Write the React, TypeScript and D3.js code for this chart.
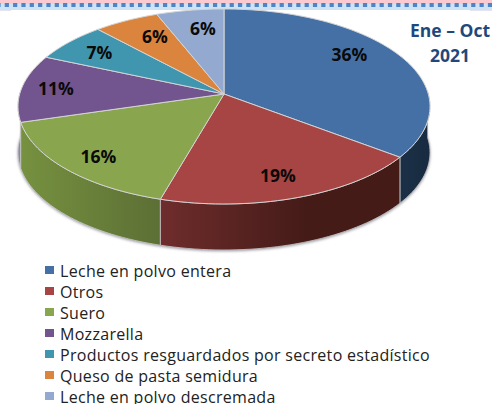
import React from "react";
import * as d3 from "d3";

const categories = [
  "Leche en polvo entera",
  "Otros",
  "Suero",
  "Mozzarella",
  "Productos resguardados por secreto estadístico",
  "Queso de pasta semidura",
  "Leche en polvo descremada",
];
const values = [35.4, 19.0, 16.0, 11.2, 6.6, 5.8, 6.0];
const labels = ["36%", "19%", "16%", "11%", "7%", "6%", "6%"];
const colors = ["#4570a5", "#a64544", "#89a54e", "#72548f", "#4096ae", "#db843d", "#93a9cf"];
const sideLeft = ["#1b3047", "#6e2d2c", "#76913f", "#8f86a8", "#2f7286", "#a8642d", "#7b8fb0"];
const sideRight = ["#182b40", "#451b18", "#5c6f35", "#8f86a8", "#2f7286", "#a8642d", "#7b8fb0"];
const labelRadius = [0.77, 0.82, 0.835, 0.828, 0.78, 0.73, 0.73];
const labelTurnDeg = [-6.6, 1.5, -1.9, -0.6, -1.4, 2, 1.9];

const W = 492;
const H = 404;
const CX = 224;
const CY = 94;
const A = 204.3;
const B = 95.9;
const K = 0.128;
const DEPTH = 46;

// Perspective projection of a point on the unit disc
function project(angle: number, r: number): [number, number] {
  const u = r * Math.sin(angle);
  const v = -r * Math.cos(angle);
  const w = 1 - K * v;
  return [CX + (A * u) / w, CY + (B * v) / w];
}

const arcs = d3
  .pie<number>()
  .sort(null)
  .startAngle(0)
  .endAngle(2 * Math.PI)(values);

const line = d3.line<[number, number]>();

function rim(a0: number, a1: number, dy = 0): [number, number][] {
  const n = Math.max(2, Math.ceil((a1 - a0) / 0.03));
  return d3.range(n + 1).map((i) => {
    const [x, y] = project(a0 + ((a1 - a0) * i) / n, 1);
    return [x, y + dy] as [number, number];
  });
}

function wedgePath(a0: number, a1: number) {
  return line([project(0, 0), ...rim(a0, a1)]) + "Z";
}

function sidePath(a0: number, a1: number) {
  return line([...rim(a0, a1), ...rim(a0, a1, DEPTH).reverse()]) + "Z";
}

const FRONT0 = Math.PI / 2 - 0.02;
const FRONT1 = (3 * Math.PI) / 2 + 0.02;

const legendY = d3.scalePoint<string>().domain(categories).range([271, 397]);

export default function App() {
  return (
    <svg
      width={W}
      height={H}
      style={{ position: "absolute", left: 0, top: 0, background: "#fff" }}
      fontFamily="'Open Sans', sans-serif"
    >
      <defs>
        <filter id="soft" x="-10%" y="-10%" width="120%" height="130%">
          <feGaussianBlur stdDeviation="1.6" />
        </filter>
        {arcs.map((a, i) => {
          const [x0] = project(Math.max(a.startAngle, FRONT0), 1);
          const [x1] = project(Math.min(a.endAngle, FRONT1), 1);
          return (
            <linearGradient key={i} id={`g${i}`} gradientUnits="userSpaceOnUse" x1={Math.min(x0, x1)} x2={Math.max(x0, x1)} y1={0} y2={0}>
              <stop offset="0" stopColor={sideLeft[i]} />
              <stop offset={i === 1 ? 0.6 : 1} stopColor={sideRight[i]} />
            </linearGradient>
          );
        })}
      </defs>

      {/* top band */}
      <rect x={0} y={0} width={W} height={4} fill="#fbc9d0" />
      <rect x={0} y={4} width={W} height={6} fill="#cfe3f4" />
      <rect x={0} y={10} width={11} height={1} fill="#e4e4f0" />
      <rect x={470} y={10} width={22} height={1} fill="#e4e4f0" />
      {d3.range(-3.6, W, 8.33).map((x) => (
        <rect key={x} x={x} y={3} width={4.2} height={4} fill="#4f85c4" />
      ))}

      {/* shadow */}
      <path d={line(rim(0, 2 * Math.PI, DEPTH + 1)) + "Z"} fill="#8a8a96" filter="url(#soft)" />

      {/* sides */}
      {[0, 6, 5, 4, 3, 2, 1].map((i) => {
        const a = arcs[i];
        const s = Math.max(a.startAngle, FRONT0);
        const e = Math.min(a.endAngle, FRONT1);
        if (e <= s) return null;
        return <path key={i} d={sidePath(s, e)} fill={`url(#g${i})`} stroke="#c9c9c9" strokeWidth={0.8} />;
      })}

      {/* top face */}
      {arcs.map((a, i) => (
        <path key={i} d={wedgePath(a.startAngle, a.endAngle)} fill={colors[i]} stroke="#d4d4d4" strokeWidth={1} strokeLinejoin="round" />
      ))}

      {/* data labels */}
      {arcs.map((a, i) => {
        const mid = (a.startAngle + a.endAngle) / 2 + (labelTurnDeg[i] * Math.PI) / 180;
        const [x, y] = project(mid, labelRadius[i]);
        return (
          <text key={i} x={x} y={y} textAnchor="middle" dominantBaseline="middle" fontWeight={700} fontSize={17.5} fill="#0a0a0a">
            {labels[i]}
          </text>
        );
      })}

      {/* note */}
      <text textAnchor="middle" fontWeight={700} fontSize={17.5} fill="#1f497d">
        <tspan x={450} y={37}>Ene – Oct</tspan>
        <tspan x={450} y={62}>2021</tspan>
      </text>

      {/* legend */}
      {categories.map((c, i) => {
        const y = legendY(c) as number;
        return (
          <g key={c}>
            <rect x={45} y={y - 5} width={9} height={8} fill={colors[i]} />
            <text x={60} y={y + 5.5} fontSize={16} letterSpacing={0.3} fill="#222">{c}</text>
          </g>
        );
      })}
    </svg>
  );
}
